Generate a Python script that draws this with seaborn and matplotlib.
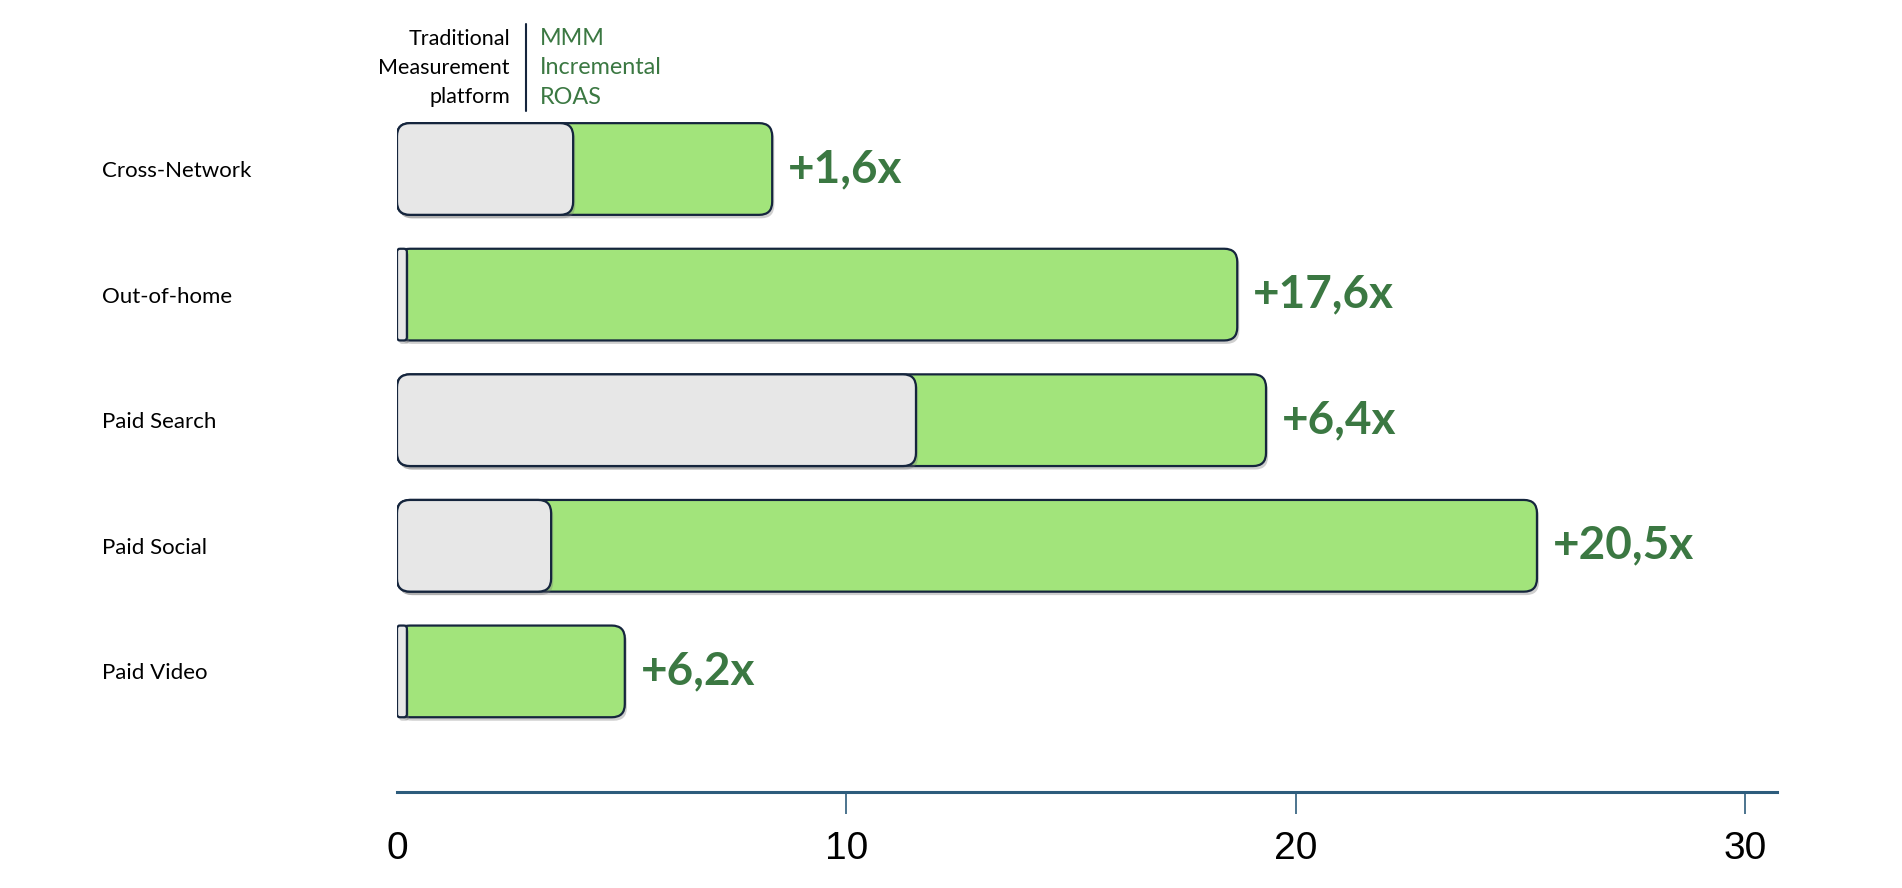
import numpy as np
import pandas as pd
import matplotlib
matplotlib.use("Agg")
import matplotlib.pyplot as plt
from matplotlib.patches import FancyBboxPatch
from matplotlib import patheffects as pe
import seaborn as sns

channels = ["Cross-Network", "Out-of-home", "Paid Search", "Paid Social", "Paid Video"]
traditional = [3.92, 0.22, 11.55, 3.43, 0.22]
mmm_total = [8.35, 18.7, 19.34, 25.37, 5.07]
uplift_labels = ["+1,6x", "+17,6x", "+6,4x", "+20,5x", "+6,2x"]
x_ticks = [0, 10, 20, 30]

GREEN = "#a2e47b"
GRAY = "#e7e7e7"
EDGE = "#15253d"
TEXT_GREEN = "#3b7842"
AXIS_BLUE = "#2d5c7c"

df = pd.DataFrame({"channel": channels, "traditional": traditional, "total": mmm_total})

sns.set_style("white")
plt.rcParams["font.family"] = ["Lato", "DejaVu Sans"]

fig = plt.figure(figsize=(19.02, 8.88), dpi=100)
ax = fig.add_axes([397 / 1902, 96 / 888, (1777 - 397) / 1902, 692 / 888])

sns.barplot(data=df, x="total", y="channel", order=channels, color=GREEN,
            saturation=1, width=0.73, ax=ax)
n_green = len(ax.patches)
sns.barplot(data=df, x="traditional", y="channel", order=channels, color=GRAY,
            saturation=1, width=0.73, ax=ax)

px_per_unit = (1745 - 397) / 30
ax.set_xlim(0, (1777 - 397) / px_per_unit)
ax.set_ylim((792 - 169) / 125.6, (100 - 169) / 125.6)

# swap plain bars for rounded ones, keeping seaborn's geometry
p0 = ax.transData.transform((0, 0))
p1 = ax.transData.transform((1, 1))
aspect = (p1[0] - p0[0]) / abs(p1[1] - p0[1])
radius = 13 / (p1[0] - p0[0])

bars = list(ax.patches)
for i, bar in enumerate(bars):
    x, y = bar.get_xy()
    w, h = bar.get_width(), bar.get_height()
    fc = GREEN if i < n_green else GRAY
    bar.remove()
    r = min(radius, 0.3 * w)
    fancy = FancyBboxPatch((x, y), w, h,
                           boxstyle=f"round,pad=0,rounding_size={r}",
                           mutation_aspect=aspect, fc=fc, ec=EDGE, lw=1.6,
                           zorder=2 + (i >= n_green))
    fancy.set_path_effects([pe.SimplePatchShadow(offset=(1.5, -2.5), shadow_rgbFace="#777777", alpha=0.35),
                            pe.Normal()])
    ax.add_patch(fancy)

gap = 16 / (p1[0] - p0[0])
for i, (val, lab) in enumerate(zip(mmm_total, uplift_labels)):
    ax.text(val + gap, i, lab, ha="left", va="center", fontsize=33,
            fontweight="bold", color=TEXT_GREEN)

for side in ["left", "top", "right"]:
    ax.spines[side].set_visible(False)
ax.spines["bottom"].set_color(AXIS_BLUE)
ax.spines["bottom"].set_linewidth(2.2)

ax.set_xticks(x_ticks)
ax.set_xticklabels([str(t) for t in x_ticks], fontfamily="Liberation Sans", fontsize=28)
ax.tick_params(axis="x", bottom=True, length=16, width=1.2, color=AXIS_BLUE, pad=12,
               labelcolor="black")
ax.xaxis.get_major_ticks()[0].tick1line.set_visible(False)

ax.tick_params(axis="y", length=0, pad=(397 - 102) * 0.72, labelsize=16, labelcolor="black")
for t in ax.get_yticklabels():
    t.set_horizontalalignment("left")

ax.set_xlabel("")
ax.set_ylabel("")

# header key above the bars
fig.text(510 / 1902, 1 - 68 / 888, "Traditional\nMeasurement\nplatform", ha="right",
         va="center", fontsize=15.5, linespacing=1.55, color="black")
fig.text(540 / 1902, 1 - 68 / 888, "MMM\nIncremental\nROAS", ha="left",
         va="center", fontsize=16.8, linespacing=1.48, color=TEXT_GREEN)
fig.add_artist(plt.Line2D([526 / 1902, 526 / 1902], [1 - 24 / 888, 1 - 111 / 888],
                          color=EDGE, lw=1.5))

fig.savefig("out.png", dpi=100)
